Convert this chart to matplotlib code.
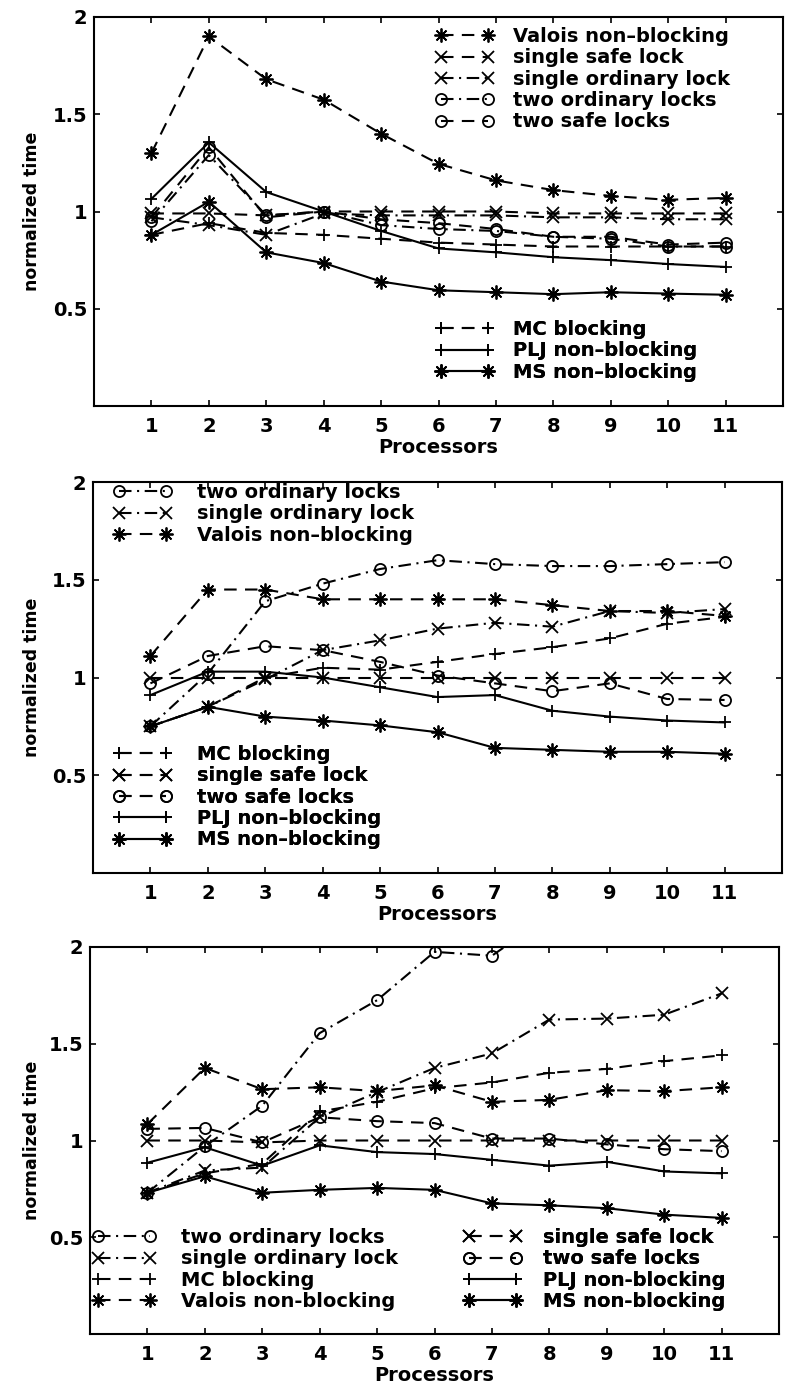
import numpy as np
import matplotlib
matplotlib.use('Agg')
import matplotlib.pyplot as plt

plt.rcParams['font.family'] = ['DejaVu Sans']
plt.rcParams['font.weight'] = 'bold'
plt.rcParams['lines.scale_dashes'] = False

procs = list(range(1, 12))
nan = np.nan

# top panel
p1_valois = [1.30, 1.90, 1.68, 1.575, 1.40, 1.245, 1.16, 1.11, 1.08, 1.06, 1.07]
p1_single_safe = [0.99, 0.99, 0.98, 1.00, 1.00, 1.00, 1.00, 0.99, 0.99, 0.99, 0.99]
p1_single_ord = [0.97, 0.93, 0.88, 0.99, 0.98, 0.98, 0.98, 0.97, 0.97, 0.96, 0.96]
p1_two_ord = [0.95, 1.29, 0.98, 1.00, 0.93, 0.91, 0.90, 0.87, 0.86, 0.82, 0.82]
p1_two_safe = [0.97, 1.33, 0.97, 1.00, 0.96, 0.94, 0.91, 0.87, 0.87, 0.83, 0.84]
p1_mc = [0.88, 0.94, 0.89, 0.88, 0.86, 0.84, 0.83, 0.82, 0.82, 0.82, 0.82]
p1_plj = [1.065, 1.355, 1.10, 1.00, 0.90, 0.81, 0.79, 0.765, 0.75, 0.73, 0.715]
p1_ms = [0.88, 1.05, 0.79, 0.735, 0.64, 0.595, 0.585, 0.575, 0.585, 0.578, 0.572]

# middle panel
p2_two_ord = [0.75, 1.02, 1.39, 1.48, 1.555, 1.60, 1.58, 1.57, 1.57, 1.58, 1.59]
p2_single_ord = [0.75, 0.85, 0.99, 1.14, 1.19, 1.25, 1.28, 1.26, 1.34, 1.33, 1.35]
p2_valois = [1.11, 1.45, 1.45, 1.40, 1.40, 1.40, 1.40, 1.37, 1.34, 1.34, 1.315]
p2_mc = [0.75, 0.85, 1.00, 1.05, 1.04, 1.08, 1.12, 1.155, 1.20, 1.275, 1.31]
p2_single_safe = [1.00, 1.00, 1.00, 1.00, 1.00, 1.00, 1.00, 1.00, 1.00, 1.00, 1.00]
p2_two_safe = [0.97, 1.11, 1.16, 1.14, 1.08, 1.01, 0.97, 0.93, 0.97, 0.89, 0.885]
p2_plj = [0.91, 1.03, 1.03, 1.00, 0.95, 0.90, 0.91, 0.83, 0.80, 0.78, 0.77]
p2_ms = [0.75, 0.85, 0.80, 0.78, 0.755, 0.72, 0.64, 0.63, 0.62, 0.62, 0.61]

# bottom panel
p3_two_ord = [0.73, 0.97, 1.18, 1.555, 1.725, 1.975, 1.955, 2.16, nan, nan, nan]
p3_single_ord = [0.73, 0.845, 0.86, 1.12, 1.25, 1.375, 1.45, 1.625, 1.63, 1.65, 1.76]
p3_mc = [0.73, 0.83, 0.88, 1.15, 1.20, 1.27, 1.30, 1.35, 1.37, 1.41, 1.44]
p3_valois = [1.085, 1.375, 1.265, 1.275, 1.255, 1.285, 1.20, 1.21, 1.26, 1.255, 1.275]
p3_single_safe = [1.00, 1.00, 0.99, 1.00, 1.00, 1.00, 1.00, 1.00, 1.00, 1.00, 1.00]
p3_two_safe = [1.06, 1.065, 0.99, 1.12, 1.10, 1.09, 1.01, 1.01, 0.98, 0.955, 0.945]
p3_plj = [0.885, 0.965, 0.87, 0.975, 0.94, 0.93, 0.90, 0.87, 0.89, 0.84, 0.83]
p3_ms = [0.73, 0.815, 0.73, 0.745, 0.755, 0.745, 0.675, 0.665, 0.65, 0.617, 0.60]

yticks = [0.5, 1, 1.5, 2]
ytick_labels = ['0.5', '1', '1.5', '2']

FS = 14
LS = 0.12
star = (8, 2, 0)
dash = (0, (9, 6))
dashdot = (0, (9, 4, 1.5, 4))
style = {
    'valois': dict(ls=dash, marker=star, ms=10),
    'single_safe': dict(ls=dash, marker='x', ms=8),
    'single_ord': dict(ls=dashdot, marker='x', ms=8),
    'two_ord': dict(ls=dashdot, marker='o', ms=8),
    'two_safe': dict(ls=dash, marker='o', ms=8),
    'mc': dict(ls=dash, marker='+', ms=9),
    'plj': dict(ls='-', marker='+', ms=9),
    'ms': dict(ls='-', marker=star, ms=10),
}

W, H = 785, 1386
fig = plt.figure(figsize=(W / 100, H / 100), dpi=100)

# panel boxes in pixels: left, right, top, bottom
boxes = [(94, 783, 17, 406), (93, 782, 482, 873), (90, 779, 947, 1334)]


def make_axes(box):
    L, R, T, B = box
    ax = fig.add_axes([L / W, 1 - B / H, (R - L) / W, (B - T) / H])
    ax.set_xlim(0, 12)
    ax.set_ylim(0, 2)
    ax.set_xticks(procs)
    ax.set_yticks(yticks)
    ax.set_yticklabels(ytick_labels)
    ax.tick_params(direction='in', length=4.5, width=1.2, top=True, right=True,
                   labelsize=FS)
    ax.tick_params(axis='x', pad=8)
    ax.tick_params(axis='y', pad=5)
    for s in ax.spines.values():
        s.set_linewidth(1.5)
    ax.set_xlabel('Processors', fontsize=FS, fontweight='bold')
    ax.set_ylabel('normalized time', fontsize=12.5, fontweight='bold')
    ax.yaxis.set_label_coords((41 - L) / (R - L), 0.5)
    ax.xaxis.set_label_coords(0.5, -32 / (B - T))
    return ax


def draw(ax, series):
    hs = {}
    for key, vals in series.items():
        (h,) = ax.plot(procs, vals, color='black', lw=1.5, mew=1.3,
                       mfc='none', **style[key])
        hs[key] = h
    return hs


def add_legend(ax, box, handles, labels, x_px, yc_px, hl=3.0, htp=1.0):
    L, R, T, B = box
    xa = (x_px - L) / (R - L)
    ya = (B - (yc_px - 10)) / (B - T)
    leg = ax.legend(handles, labels, loc='upper left', bbox_to_anchor=(xa, ya),
                    frameon=False, fontsize=FS, handlelength=hl, handletextpad=htp,
                    labelspacing=LS, borderpad=0, borderaxespad=0, numpoints=2)
    ax.add_artist(leg)
    return leg


# top
ax1 = make_axes(boxes[0])
h1 = draw(ax1, {'valois': p1_valois, 'single_safe': p1_single_safe,
                'single_ord': p1_single_ord, 'two_ord': p1_two_ord,
                'two_safe': p1_two_safe, 'mc': p1_mc, 'plj': p1_plj, 'ms': p1_ms})
add_legend(ax1, boxes[0],
           [h1['valois'], h1['single_safe'], h1['single_ord'], h1['two_ord'], h1['two_safe']],
           ['Valois non\u2013blocking', 'single safe lock', 'single ordinary lock',
            'two ordinary locks', 'two safe locks'], 435, 37)
add_legend(ax1, boxes[0], [h1['mc'], h1['plj'], h1['ms']],
           ['MC blocking', 'PLJ non\u2013blocking', 'MS non\u2013blocking'], 435, 330)

# middle
ax2 = make_axes(boxes[1])
h2 = draw(ax2, {'two_ord': p2_two_ord, 'single_ord': p2_single_ord,
                'valois': p2_valois, 'mc': p2_mc, 'single_safe': p2_single_safe,
                'two_safe': p2_two_safe, 'plj': p2_plj, 'ms': p2_ms})
add_legend(ax2, boxes[1], [h2['two_ord'], h2['single_ord'], h2['valois']],
           ['two ordinary locks', 'single ordinary lock', 'Valois non\u2013blocking'],
           113, 493, htp=1.3)
add_legend(ax2, boxes[1],
           [h2['mc'], h2['single_safe'], h2['two_safe'], h2['plj'], h2['ms']],
           ['MC blocking', 'single safe lock', 'two safe locks',
            'PLJ non\u2013blocking', 'MS non\u2013blocking'], 113, 755, htp=1.3)

# bottom
ax3 = make_axes(boxes[2])
h3 = draw(ax3, {'two_ord': p3_two_ord, 'single_ord': p3_single_ord, 'mc': p3_mc,
                'valois': p3_valois, 'single_safe': p3_single_safe,
                'two_safe': p3_two_safe, 'plj': p3_plj, 'ms': p3_ms})
add_legend(ax3, boxes[2], [h3['two_ord'], h3['single_ord'], h3['mc'], h3['valois']],
           ['two ordinary locks', 'single ordinary lock', 'MC blocking',
            'Valois non-blocking'], 92, 1238, hl=3.3, htp=1.3)
add_legend(ax3, boxes[2], [h3['single_safe'], h3['two_safe'], h3['plj'], h3['ms']],
           ['single safe lock', 'two safe locks', 'PLJ non-blocking',
            'MS non-blocking'], 463, 1238, hl=3.0, htp=1.1)

fig.savefig('out.png', dpi=100)
